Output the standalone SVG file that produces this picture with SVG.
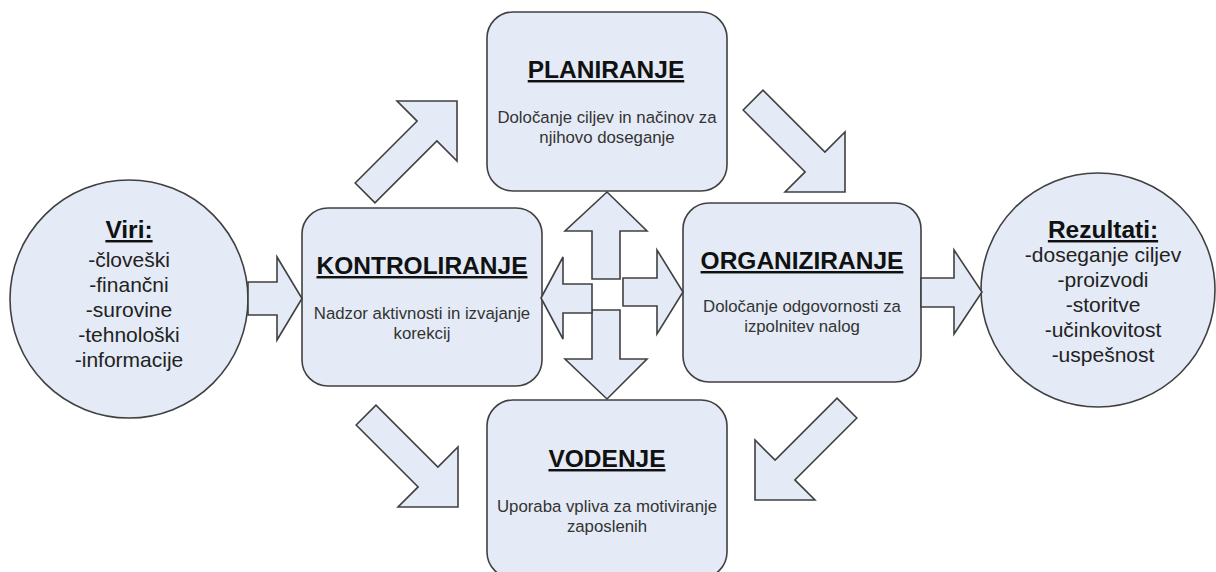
<svg xmlns="http://www.w3.org/2000/svg" width="1216" height="572" viewBox="0 0 1216 572">
<style>
.shape{fill:#E4EBF6;stroke:#404040;stroke-width:1.6;stroke-linejoin:miter}
.title{font-family:"Liberation Sans",Arial,sans-serif;font-weight:bold;font-size:24.5px;fill:#111;text-anchor:middle;text-decoration:underline;text-decoration-thickness:2.2px}
.desc{font-family:"Liberation Sans",Arial,sans-serif;font-size:16.8px;fill:#333;text-anchor:middle}
.item{font-family:"Liberation Sans",Arial,sans-serif;font-size:21px;fill:#222;text-anchor:middle}
</style>
<defs>
<path id="diag" d="M0,0 L-42.4,-42.4 L-42.4,-14 L-130,-14 L-130,14 L-42.4,14 L-42.4,42.4 Z"/>
</defs>
<rect width="1216" height="572" fill="#fff"/>
<g id="viri">
<circle class="shape" cx="129" cy="299" r="119"/>
<text class="title" x="129" y="238">Viri:</text>
<text class="item" x="129" y="267">-človeški</text>
<text class="item" x="129" y="292">-finančni</text>
<text class="item" x="129" y="317">-surovine</text>
<text class="item" x="129" y="342">-tehnološki</text>
<text class="item" x="129" y="367">-informacije</text>
</g>
<g id="rezultati">
<circle class="shape" cx="1098" cy="290" r="117"/>
<text class="title" x="1103" y="238">Rezultati:</text>
<text class="item" x="1103" y="262">-doseganje ciljev</text>
<text class="item" x="1103" y="287">-proizvodi</text>
<text class="item" x="1103" y="312">-storitve</text>
<text class="item" x="1103" y="337">-učinkovitost</text>
<text class="item" x="1103" y="362">-uspešnost</text>
</g>
<g id="planiranje">
<rect class="shape" x="487" y="12" width="240" height="179" rx="26" ry="26"/>
<text class="title" x="606" y="78">PLANIRANJE</text>
<text class="desc" x="607" y="123">Določanje ciljev in načinov za</text>
<text class="desc" x="607" y="143">njihovo doseganje</text>
</g>
<g id="kontroliranje">
<rect class="shape" x="302" y="208" width="240" height="178" rx="26" ry="26"/>
<text class="title" x="422" y="274">KONTROLIRANJE</text>
<text class="desc" x="422" y="319">Nadzor aktivnosti in izvajanje</text>
<text class="desc" x="422" y="339">korekcij</text>
</g>
<g id="organiziranje">
<rect class="shape" x="683" y="203" width="238" height="179" rx="26" ry="26"/>
<text class="title" x="802" y="269">ORGANIZIRANJE</text>
<text class="desc" x="802" y="312">Določanje odgovornosti za</text>
<text class="desc" x="802" y="332">izpolnitev nalog</text>
</g>
<g id="vodenje">
<rect class="shape" x="487" y="400" width="240" height="178" rx="26" ry="26"/>
<text class="title" x="607" y="467">VODENJE</text>
<text class="desc" x="607" y="512">Uporaba vpliva za motiviranje</text>
<text class="desc" x="607" y="532">zaposlenih</text>
</g>
<g id="connectors">
<path class="shape" d="M248,282 L277,282 L277,257 L302,298.5 L277,340 L277,315 L248,315 Z"/>
<path class="shape" d="M921,278 L954,278 L954,250 L982,292 L954,334 L954,307 L921,307 Z"/>
<use href="#diag" class="shape" transform="translate(457,101) rotate(-45)"/>
<use href="#diag" class="shape" transform="translate(845,192) rotate(45)"/>
<use href="#diag" class="shape" transform="translate(458,507) rotate(45)"/>
<use href="#diag" class="shape" transform="translate(755,500) rotate(135)"/>
<path class="shape" d="M607,192 L647,231 L620,231 L620,279 L592,279 L592,231 L565,231 Z"/>
<path class="shape" d="M592,310 L620,310 L620,359 L647,359 L607,399 L565,359 L592,359 Z"/>
<path class="shape" d="M541,298 L563,257 L563,284 L592,284 L592,313 L563,313 L563,339 Z"/>
<path class="shape" d="M623,278 L657,278 L657,250 L683,292 L657,334 L657,306 L623,306 Z"/>
</g>
</svg>
